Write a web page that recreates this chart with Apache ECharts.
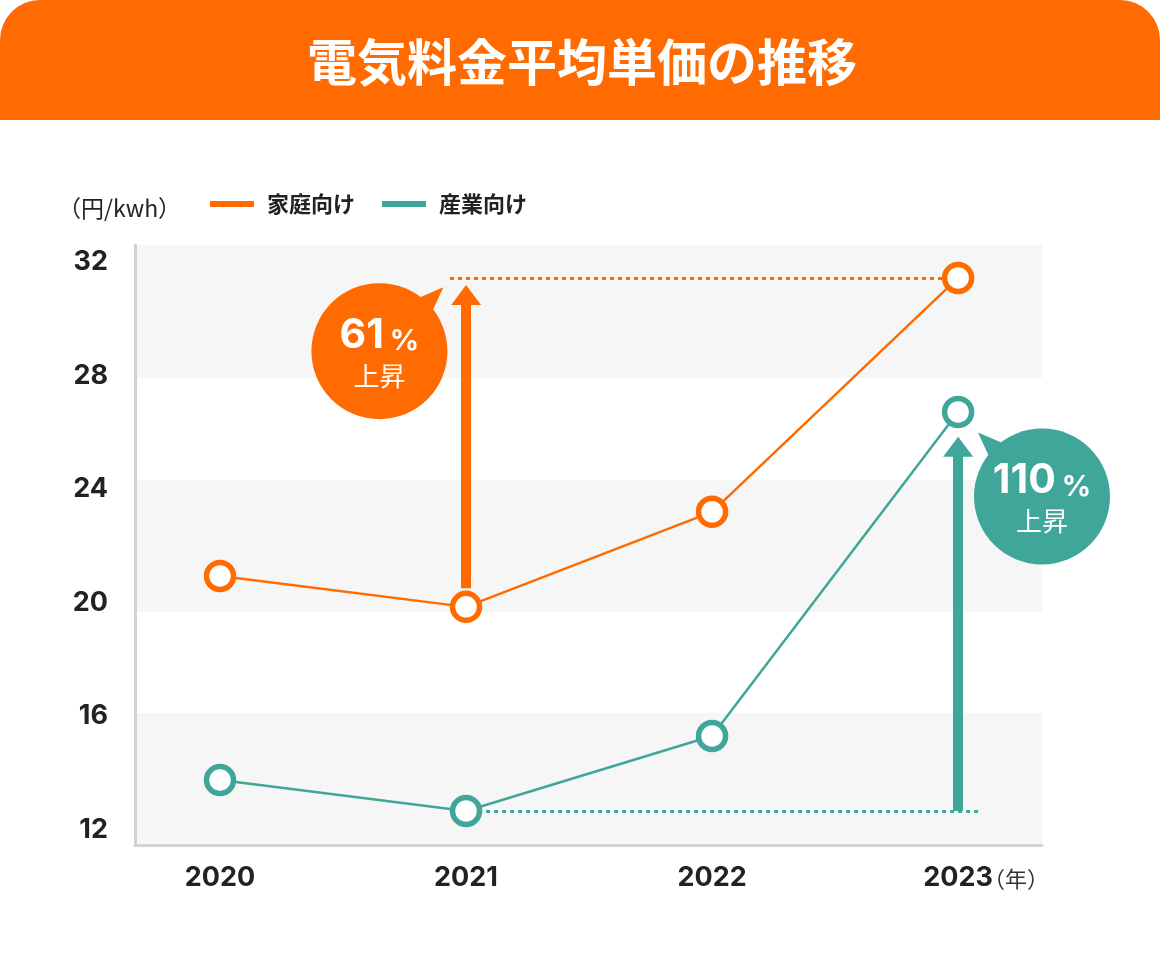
<!DOCTYPE html>
<html>
<head>
<meta charset="utf-8">
<style>
  html, body { margin: 0; padding: 0; background: #ffffff; }
  #chart { width: 1160px; height: 960px; }
</style>
<script src="https://cdn.jsdelivr.net/npm/echarts@6/dist/echarts.min.js"></script>
</head>
<body>
<div id="chart"></div>
<script>
// ---- data ----
const titleText = '電気料金平均単価の推移';
const unitLabel = '（円/kwh）';
const yearUnitLabel = '（年）';
const years = ['2020', '2021', '2022', '2023'];
const seriesNames = ['家庭向け', '産業向け'];
const householdValues = [20.94, 19.85, 23.2, 31.44];
const industrialValues = [13.75, 12.66, 15.3, 26.72];
const yTickValues = [12, 16, 20, 24, 28, 32];
const bandRanges = [[32.6, 27.91], [24.32, 19.67], [16.11, 11.46]];
const riseNumbers = ['61', '110'];
const riseWord = '上昇';

// ---- annotation anchors (data units) ----
const orangeArrow = { x: 1, from: 20.51, to: 30.84 };
const tealArrow = { x: 3, from: industrialValues[1], to: 25.49 };
const orangeDotted = { from: 0.935, to: 3, y: householdValues[3] };
const tealDotted = { from: 1.049, to: 3.081, y: industrialValues[1] };
const orangeBubble = { x: 0.648, y: 28.86 };
const tealBubble = { x: 3.341, y: 23.74 };

const ORANGE = '#FF6B00';
const TEAL = '#3FA699';
const TEXT = '#222222';
const NUM_FONT = 'Inter, "Noto Sans", sans-serif';
const JP_FONT = '"Noto Sans CJK JP", "Noto Sans", sans-serif';

const chart = echarts.init(document.getElementById('chart'), null, { renderer: 'canvas' });

function pairs(vals) { return vals.map((v, i) => [i, v]); }

const option = {
  animation: false,
  backgroundColor: '#ffffff',
  grid: { left: 135, right: 118, top: 245, bottom: 115 },
  legend: {
    left: 210, top: 193, padding: 0,
    itemWidth: 44, itemHeight: 6, itemGap: 27,
    icon: 'rect',
    textStyle: { fontFamily: JP_FONT, fontSize: 22, fontWeight: 'bold', color: TEXT, padding: [0, 0, 0, 8] },
    data: [
      { name: seriesNames[0], icon: 'rect', itemStyle: { color: ORANGE, borderWidth: 0 } },
      { name: seriesNames[1], icon: 'rect', itemStyle: { color: TEAL, borderWidth: 0 } }
    ]
  },
  xAxis: {
    type: 'value', min: -0.3455, max: 3.341, z: 3,
    axisLine: { show: true, onZero: false, lineStyle: { color: '#D2D2D2', width: 3 } },
    axisTick: { show: false },
    splitLine: { show: false },
    axisLabel: {
      customValues: [0, 1, 2, 3],
      margin: 19,
      fontFamily: NUM_FONT, fontSize: 27, fontWeight: 'bold', color: TEXT,
      formatter: v => years[Math.round(v)] || ''
    }
  },
  yAxis: {
    type: 'value', min: 11.46, max: 32.6, z: 3,
    axisLine: { show: true, onZero: false, lineStyle: { color: '#D2D2D2', width: 3 } },
    axisTick: { show: false },
    splitLine: { show: false },
    axisLabel: {
      customValues: yTickValues,
      margin: 27,
      fontFamily: NUM_FONT, fontSize: 27, fontWeight: 'bold', color: TEXT
    }
  },
  series: [
    {
      name: 'bands', type: 'line', data: [], z: 1, silent: true,
      markArea: {
        silent: true,
        itemStyle: { color: '#F6F6F6' },
        data: bandRanges.map(r => [{ yAxis: r[0] }, { yAxis: r[1] }])
      }
    },
    {
      name: 'guides', type: 'line', data: [], z: 2, silent: true,
      markLine: {
        silent: true, animation: false,
        label: { show: false },
        emphasis: { disabled: true },
        data: [
          [
            { coord: [orangeDotted.from, orangeDotted.y], symbol: 'none', lineStyle: { color: ORANGE, width: 3, type: [4, 4] } },
            { coord: [orangeDotted.to, orangeDotted.y], symbol: 'none' }
          ],
          [
            { coord: [tealDotted.from, tealDotted.y], symbol: 'none', lineStyle: { color: TEAL, width: 3, type: [4, 4] } },
            { coord: [tealDotted.to, tealDotted.y], symbol: 'none' }
          ],
          [
            { coord: [orangeArrow.x, orangeArrow.from], symbol: 'none', lineStyle: { color: ORANGE, width: 10, type: 'solid' } },
            { coord: [orangeArrow.x, orangeArrow.to], symbol: 'triangle', symbolSize: [30, 20], itemStyle: { color: ORANGE } }
          ],
          [
            { coord: [tealArrow.x, tealArrow.from], symbol: 'none', lineStyle: { color: TEAL, width: 10, type: 'solid' } },
            { coord: [tealArrow.x, tealArrow.to], symbol: 'triangle', symbolSize: [30, 20], itemStyle: { color: TEAL } }
          ]
        ]
      }
    },
    {
      name: seriesNames[0], type: 'line', z: 5,
      data: pairs(householdValues),
      symbol: 'circle', symbolSize: 27,
      lineStyle: { color: ORANGE, width: 2.5 },
      itemStyle: { color: '#ffffff', borderColor: ORANGE, borderWidth: 5.5 }
    },
    {
      name: seriesNames[1], type: 'line', z: 5,
      data: pairs(industrialValues),
      symbol: 'circle', symbolSize: 27,
      lineStyle: { color: TEAL, width: 2.5 },
      itemStyle: { color: '#ffffff', borderColor: TEAL, borderWidth: 5.5 }
    }
  ]
};

chart.setOption(option);

function bubble(anchor, color, num, dir) {
  const p = chart.convertToPixel({ gridIndex: 0 }, [anchor.x, anchor.y]);
  return {
    type: 'group', x: p[0], y: p[1],
    children: [
      { type: 'polygon', z: 60, shape: { points: [[36 * dir, -52], [64 * dir, -64], [52 * dir, -38]] }, style: { fill: color } },
      { type: 'circle', z: 60, shape: { cx: 0, cy: 0, r: 68 }, style: { fill: color } },
      {
        type: 'text', z: 61, x: 0, y: -17,
        style: {
          text: '{a|' + num + '}{b|%}',
          align: 'center', verticalAlign: 'middle',
          rich: {
            a: { fontFamily: NUM_FONT, fontSize: 41, fontWeight: 'bold', fill: '#fff', verticalAlign: 'bottom', lineHeight: 44 },
            b: { fontFamily: NUM_FONT, fontSize: 29, fontWeight: 'bold', fill: '#fff', verticalAlign: 'bottom', lineHeight: 44, padding: [0, 0, 0, 6] }
          }
        }
      },
      {
        type: 'text', z: 61, x: 0, y: 25,
        style: { text: riseWord, align: 'center', verticalAlign: 'middle', fontFamily: JP_FONT, fontSize: 26, fill: '#fff' }
      }
    ]
  };
}

const lastX = chart.convertToPixel({ gridIndex: 0 }, [3, 11.46]);

chart.setOption({
  graphic: [
    {
      type: 'rect', x: 0, y: 0, z: 10,
      shape: { width: 1160, height: 120, r: [40, 40, 0, 0] },
      style: { fill: ORANGE }
    },
    {
      type: 'text', x: 582, y: 62, z: 11,
      style: { text: titleText, align: 'center', verticalAlign: 'middle', fontFamily: JP_FONT, fontSize: 50, fontWeight: 'bold', fill: '#ffffff' }
    },
    {
      type: 'text', x: 58, y: 208, z: 11,
      style: { text: unitLabel, align: 'left', verticalAlign: 'middle', fontFamily: JP_FONT, fontSize: 23, fill: TEXT }
    },
    {
      type: 'text', x: lastX[0] + 25, y: 879, z: 11,
      style: { text: yearUnitLabel, align: 'left', verticalAlign: 'middle', fontFamily: JP_FONT, fontSize: 22, fill: '#333333' }
    },
    bubble(orangeBubble, ORANGE, riseNumbers[0], 1),
    bubble(tealBubble, TEAL, riseNumbers[1], -1)
  ]
});
</script>
</body>
</html>
